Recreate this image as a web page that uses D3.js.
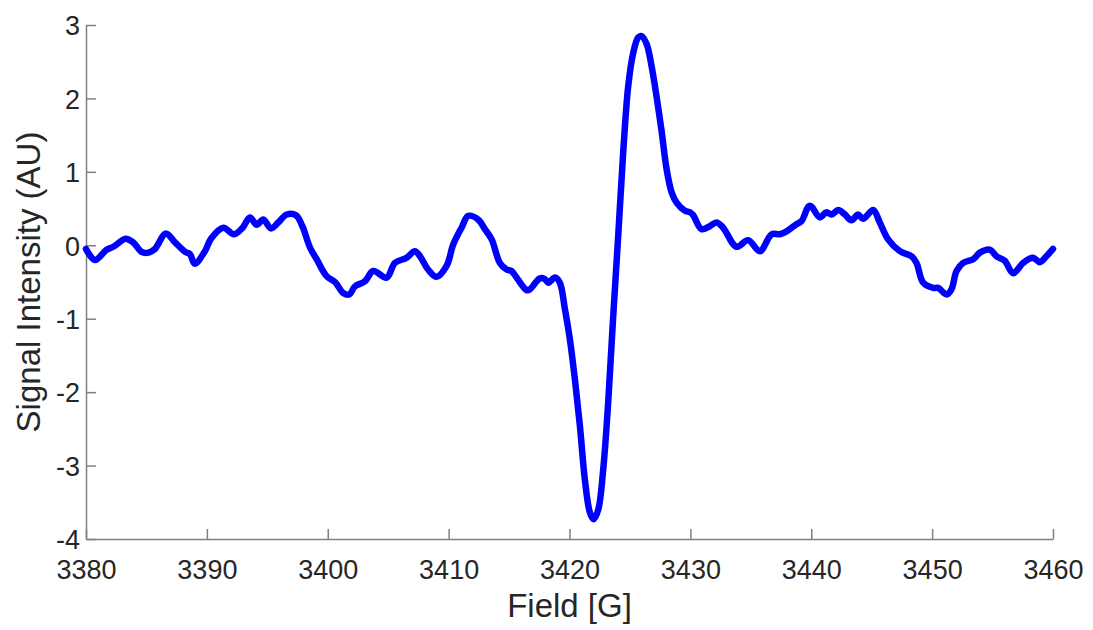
<!DOCTYPE html>
<html>
<head>
<meta charset="utf-8">
<script src="https://cdn.jsdelivr.net/npm/d3@7"></script>
<style>
  html, body { margin: 0; padding: 0; background: #ffffff; }
  svg { display: block; }
  text { font-family: "Liberation Sans", Arial, Helvetica, sans-serif; fill: #262626; }
</style>
</head>
<body>
<svg id="chart" width="1093" height="630"></svg>
<script>
// ---- data ----
const field = [
  3380.00, 3380.74, 3381.70, 3382.26, 3383.28, 3383.90, 3384.60, 3385.15, 3385.70, 3386.60,
  3387.36, 3388.20, 3388.60, 3389.00, 3389.84, 3390.34, 3391.36, 3392.24, 3392.96, 3393.56,
  3394.12, 3394.67, 3395.30, 3395.90, 3396.60, 3397.37, 3397.90, 3398.53, 3399.08, 3399.90,
  3400.60, 3401.28, 3401.78, 3402.25, 3403.08, 3403.76, 3404.87, 3405.56, 3406.53, 3407.20,
  3407.63, 3408.30, 3409.00, 3409.83, 3410.38, 3411.07, 3411.62, 3412.45, 3413.00, 3413.56,
  3414.24, 3414.80, 3415.20, 3415.62, 3416.45, 3416.72, 3417.55, 3417.96, 3418.24, 3418.80,
  3419.20, 3419.62, 3420.03, 3420.45, 3420.86, 3421.27, 3421.69, 3422.00, 3422.38, 3422.79,
  3423.20, 3423.60, 3424.03, 3424.44, 3424.86, 3425.27, 3425.68, 3425.96, 3426.38, 3426.79,
  3427.20, 3427.60, 3428.03, 3428.45, 3428.86, 3429.55, 3429.96, 3430.23, 3430.92, 3431.60,
  3432.17, 3432.71, 3433.82, 3434.78, 3435.75, 3436.72, 3437.40, 3437.96, 3438.80, 3439.20,
  3439.88, 3440.71, 3441.26, 3441.68, 3442.23, 3442.78, 3443.33, 3443.88, 3444.29, 3445.12,
  3445.67, 3446.36, 3447.33, 3448.30, 3448.71, 3449.26, 3450.08, 3450.50, 3451.19, 3451.60,
  3452.02, 3452.57, 3453.40, 3453.95, 3454.77, 3455.33, 3456.00, 3456.70, 3457.53, 3458.35,
  3458.90, 3459.45, 3460.00
];
const intensity = [
  -0.05, -0.20, -0.06, -0.02, 0.09, 0.04, -0.09, -0.10, -0.05, 0.16,
  0.04, -0.09, -0.12, -0.25, -0.08, 0.09, 0.24, 0.15, 0.24, 0.38,
  0.28, 0.35, 0.23, 0.31, 0.42, 0.41, 0.26, -0.03, -0.19, -0.42,
  -0.50, -0.65, -0.67, -0.56, -0.49, -0.35, -0.44, -0.24, -0.17, -0.08,
  -0.15, -0.33, -0.43, -0.28, 0.01, 0.24, 0.40, 0.35, 0.22, 0.08,
  -0.24, -0.33, -0.35, -0.44, -0.61, -0.60, -0.45, -0.46, -0.51, -0.44,
  -0.51, -0.87, -1.28, -1.83, -2.46, -3.19, -3.64, -3.73, -3.60, -3.05,
  -2.14, -1.01, 0.13, 1.26, 2.17, 2.62, 2.83, 2.85, 2.74, 2.44,
  2.03, 1.58, 1.04, 0.72, 0.58, 0.47, 0.45, 0.41, 0.22, 0.26,
  0.31, 0.24, -0.02, 0.07, -0.08, 0.15, 0.15, 0.19, 0.29, 0.33,
  0.54, 0.38, 0.45, 0.42, 0.48, 0.42, 0.34, 0.42, 0.36, 0.48,
  0.31, 0.08, -0.08, -0.15, -0.24, -0.51, -0.58, -0.58, -0.67, -0.60,
  -0.35, -0.24, -0.19, -0.10, -0.06, -0.15, -0.21, -0.38, -0.24, -0.17,
  -0.23, -0.15, -0.05
];
const xTicks = [3380, 3390, 3400, 3410, 3420, 3430, 3440, 3450, 3460];
const xTickLabels = ["3380", "3390", "3400", "3410", "3420", "3430", "3440", "3450", "3460"];
const yTicks = [-4, -3, -2, -1, 0, 1, 2, 3];
const yTickLabels = ["-4", "-3", "-2", "-1", "0", "1", "2", "3"];
const xLabel = "Field [G]";
const yLabel = "Signal Intensity (AU)";

// ---- layout ----
const svg = d3.select("#chart");
const margin = { left: 86, right: 40, top: 25, bottom: 91 };
const W = 1093, H = 630;
const x = d3.scaleLinear().domain([3380, 3460]).range([margin.left, W - margin.right]);
const y = d3.scaleLinear().domain([-4, 3]).range([H - margin.bottom, margin.top]);

const axisColor = "#808080";
const tickFont = 27;
const tickFamily = "'Liberation Sans', Arial, sans-serif";

// x axis
const gx = svg.append("g")
  .attr("transform", `translate(0,${y(-4)})`)
  .call(d3.axisBottom(x).tickValues(xTicks)
    .tickFormat((d, i) => xTickLabels[i])
    .tickSizeInner(-10).tickSizeOuter(0).tickPadding(21));
gx.select(".domain").attr("stroke", axisColor).attr("stroke-width", 1.5);
gx.selectAll(".tick line").attr("stroke", axisColor).attr("stroke-width", 1.5);
gx.selectAll(".tick text").attr("font-size", tickFont).attr("fill", "#262626")
  .attr("font-family", tickFamily).attr("dy", "0.72em");

// y axis
const gy = svg.append("g")
  .attr("transform", `translate(${x(3380)},0)`)
  .call(d3.axisLeft(y).tickValues(yTicks)
    .tickFormat((d, i) => yTickLabels[i])
    .tickSizeInner(-10).tickSizeOuter(0).tickPadding(6));
gy.select(".domain").attr("stroke", axisColor).attr("stroke-width", 1.5);
gy.selectAll(".tick line").attr("stroke", axisColor).attr("stroke-width", 1.5);
gy.selectAll(".tick text").attr("font-size", tickFont).attr("fill", "#262626")
  .attr("font-family", tickFamily).attr("dy", "0.36em");

// line
const pts = field.map((f, i) => [f, intensity[i]]);
const line = d3.line()
  .x(d => x(d[0]))
  .y(d => y(d[1]))
  .curve(d3.curveCatmullRom.alpha(0.5));
svg.append("path")
  .datum(pts)
  .attr("d", line)
  .attr("fill", "none")
  .attr("stroke", "#0000ff")
  .attr("stroke-width", 6.5)
  .attr("stroke-linejoin", "round")
  .attr("stroke-linecap", "round");

// axis labels
svg.append("text")
  .attr("x", (x(3380) + x(3460)) / 2)
  .attr("y", 617)
  .attr("text-anchor", "middle")
  .attr("font-size", 33)
  .text(xLabel);

svg.append("text")
  .attr("transform", `translate(40,${(y(-4) + y(3)) / 2}) rotate(-90)`)
  .attr("text-anchor", "middle")
  .attr("font-size", 33)
  .text(yLabel);
</script>
</body>
</html>
